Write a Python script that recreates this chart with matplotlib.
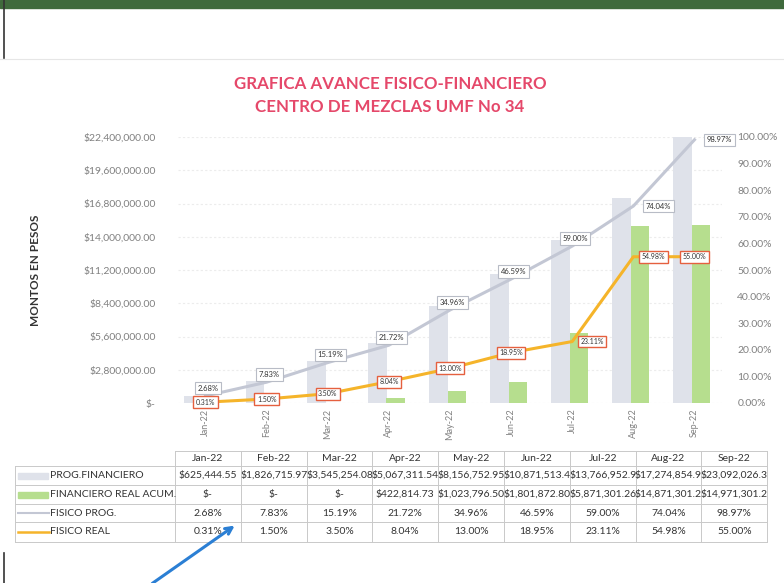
import numpy as np
import matplotlib.pyplot as plt
from matplotlib.patches import Rectangle

meses = ['Jan-22', 'Feb-22', 'Mar-22', 'Apr-22', 'May-22', 'Jun-22', 'Jul-22', 'Aug-22', 'Sep-22']
prog_financiero = [625444.55, 1826715.97, 3545254.08, 5067311.54, 8156752.95,
                   10871513.45, 13766952.95, 17274854.95, 23092026.30]
financiero_real = [0, 0, 0, 422814.73, 1023796.50, 1801872.80,
                   5871301.26, 14871301.26, 14971301.26]
fisico_prog = [2.68, 7.83, 15.19, 21.72, 34.96, 46.59, 59.00, 74.04, 98.97]
fisico_real = [0.31, 1.50, 3.50, 8.04, 13.00, 18.95, 23.11, 54.98, 55.00]
nombres = ['PROG.FINANCIERO', 'FINANCIERO REAL ACUM.', 'FISICO PROG.', 'FISICO REAL']

C_GRIS = '#dfe2ea'
C_VERDE = '#b6de8e'
C_LPROG = '#c3c7d4'
C_LREAL = '#f5b42a'
C_TXT = '#808080'

plt.rcParams['font.family'] = ['Lato', 'DejaVu Sans']

fig = plt.figure(figsize=(7.84, 5.83), dpi=100)
W, H = 784, 583

# capa de fondo en pixeles (banda verde, tabla, flecha)
bg = fig.add_axes([0, 0, 1, 1], zorder=0)
bg.set_xlim(0, W)
bg.set_ylim(H, 0)
bg.axis('off')
bg.add_patch(Rectangle((0, 0), W, 8, color='#3f6a3c'))
bg.plot([4, 4], [0, 58], color='#333333', lw=1.2)
bg.plot([4, 4], [553, 583], color='#333333', lw=1.2)
bg.plot([0, W], [59, 59], color='#e6e6e6', lw=0.8)

# eje principal (montos)
x = np.arange(len(meses))
ax = fig.add_axes([178 / W, 1 - 403 / H, (722 - 178) / W, (403 - 137) / H], zorder=2)
ax.patch.set_alpha(0)
ax.bar(x - 0.19, prog_financiero, width=0.31, color=C_GRIS, zorder=1)
ax.bar(x + 0.11, financiero_real, width=0.30, color=C_VERDE, zorder=1)
ax.set_xlim(-0.45, len(meses) - 0.55)
ax.set_ylim(0, 22400000)
ticks = np.arange(0, 22400001, 2800000)
ax.set_yticks(ticks)
ax.set_yticklabels(['$-'] + ['${:,.2f}'.format(t) for t in ticks[1:]])
ax.yaxis.grid(True, color='#ececec', lw=0.8, ls=(0, (2, 2)))
ax.set_axisbelow(True)
ax.set_xticks(x)
ax.set_xticklabels(meses, rotation=90)
ax.tick_params(axis='y', length=0, pad=16, labelsize=7.5, labelcolor=C_TXT)
ax.tick_params(axis='x', length=0, pad=4, labelsize=6.5, labelcolor=C_TXT)
for s in ax.spines.values():
    s.set_visible(False)
ax.set_ylabel('MONTOS EN PESOS', fontsize=8.5, fontweight='bold', color='#333333')
ax.yaxis.set_label_coords(-0.252, 0.5)

# eje secundario (porcentajes)
ax2 = ax.twinx()
ax2.set_ylim(0, 100)
ax2.set_yticks(np.arange(0, 101, 10))
ax2.set_yticklabels(['{:.2f}%'.format(t) for t in np.arange(0, 101, 10)])
ax2.tick_params(axis='y', length=0, pad=11, labelsize=7.5, labelcolor=C_TXT)
for s in ax2.spines.values():
    s.set_visible(False)
ax2.plot(x, fisico_prog, color=C_LPROG, lw=2.2, zorder=3)
ax2.plot(x, fisico_real, color=C_LREAL, lw=2.2, zorder=3)

# etiquetas de datos
for i, v in enumerate(fisico_prog):
    if i >= len(meses) - 2:
        xy, ha, va = (9, 0), 'left', 'center'
    else:
        xy, ha, va = (2, 3), 'center', 'bottom'
    ax2.annotate('{:.2f}%'.format(v), (x[i], v), xytext=xy, textcoords='offset points',
                 ha=ha, va=va, fontsize=5.5, color='#333333', zorder=5,
                 bbox=dict(boxstyle='square,pad=0.35', fc='white', ec='#b8bcc6', lw=0.8))
for i, v in enumerate(fisico_real):
    dx = 6 if i in (6, 7) else 0
    ax2.annotate('{:.2f}%'.format(v), (x[i], v), xytext=(dx, 0), textcoords='offset points',
                 ha='left' if dx else 'center', va='center', fontsize=5, color='#333333', zorder=5,
                 bbox=dict(boxstyle='square,pad=0.35', fc='white', ec='#e5603f', lw=1.0))

# titulo
fig.text(390 / W, 1 - 84 / H, 'GRAFICA AVANCE FISICO-FINANCIERO', ha='center', va='center',
         fontsize=12.2, fontweight='bold', color='#e5486a')
fig.text(390 / W, 1 - 107 / H, 'CENTRO DE MEZCLAS UMF No 34', ha='center', va='center',
         fontsize=12.2, fontweight='bold', color='#e5486a')

# tabla de datos
col_x = [175 + 65.8 * k for k in range(len(meses) + 1)]
row_y = [451, 466, 485, 504, 522, 542]
lc = '#c9c9c9'
bg.plot([col_x[0], col_x[-1]], [row_y[0]] * 2, color=lc, lw=0.7)
for yy in row_y[1:]:
    bg.plot([15, col_x[-1]], [yy, yy], color=lc, lw=0.7)
bg.plot([15, 15], [row_y[1], row_y[-1]], color=lc, lw=0.7)
for xx in col_x:
    bg.plot([xx, xx], [row_y[0], row_y[-1]], color=lc, lw=0.7)

def fmt_money(v):
    if v == 0:
        return '$-'
    return '${:,.2f}'.format(v)[:13]

filas = [[fmt_money(v) for v in prog_financiero],
         [fmt_money(v) for v in financiero_real],
         ['{:.2f}%'.format(v) for v in fisico_prog],
         ['{:.2f}%'.format(v) for v in fisico_real]]

for j, m in enumerate(meses):
    xc = (col_x[j] + col_x[j + 1]) / 2
    bg.text(xc, (row_y[0] + row_y[1]) / 2, m, ha='center', va='center', fontsize=7.5, color='#333333')
    for r in range(4):
        bg.text(xc, (row_y[r + 1] + row_y[r + 2]) / 2, filas[r][j], ha='center', va='center',
                fontsize=7.5, color='#333333')

for r, nombre in enumerate(nombres):
    yc = (row_y[r + 1] + row_y[r + 2]) / 2
    if r == 0:
        bg.add_patch(Rectangle((18, yc - 3), 30, 6, color=C_GRIS))
    elif r == 1:
        bg.add_patch(Rectangle((18, yc - 3), 30, 6, color=C_VERDE))
    elif r == 2:
        bg.plot([18, 49], [yc, yc], color=C_LPROG, lw=1.5)
    else:
        bg.plot([18, 49], [yc, yc], color=C_LREAL, lw=1.8)
    bg.text(50, yc, nombre, ha='left', va='center', fontsize=7.5, color='#333333')

# flecha a mano (azul)
bg.annotate('', xy=(237, 524), xytext=(150, 585),
            arrowprops=dict(arrowstyle='->', color='#2b7fd4', lw=2.2, mutation_scale=12))

fig.savefig('out.png', dpi=100)
